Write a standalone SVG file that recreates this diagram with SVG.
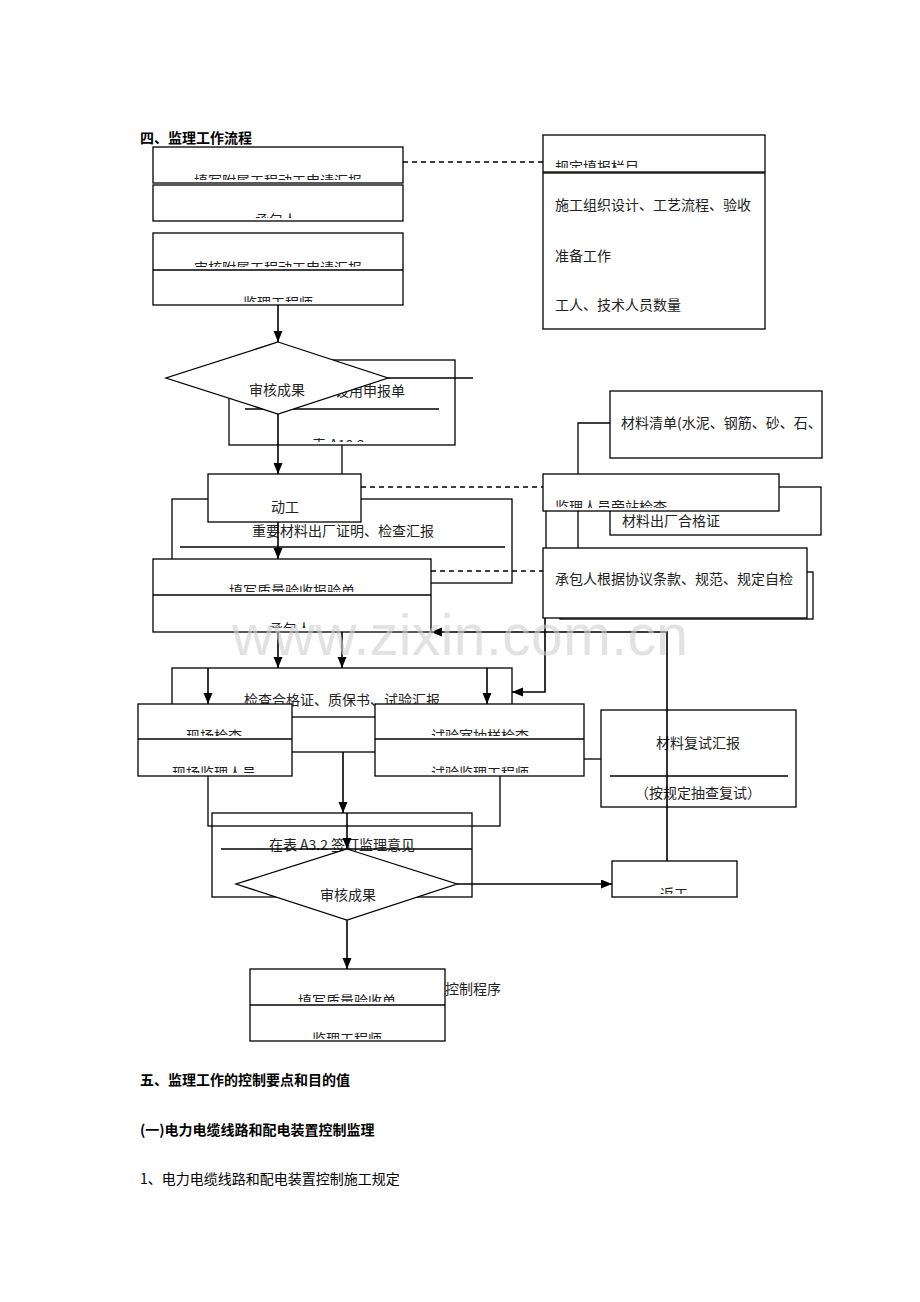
<svg xmlns="http://www.w3.org/2000/svg" width="920" height="1302" viewBox="0 0 920 1302">
<style>
.bx{fill:#fff;stroke:#000;stroke-width:1.3}
.nf{fill:none;stroke:#000;stroke-width:1.3}
.ln{fill:none;stroke:#000;stroke-width:1.3}
.ar{fill:none;stroke:#000;stroke-width:1.6;marker-end:url(#ah)}
.ds{fill:none;stroke:#000;stroke-width:1.3;stroke-dasharray:5,4}
.t{font-family:"Noto Sans CJK SC","Noto Sans CJK JP",sans-serif;font-size:14px;fill:#222}
.c{text-anchor:middle}
.h{font-family:"Noto Sans CJK SC","Noto Sans CJK JP",sans-serif;font-size:14px;font-weight:bold;fill:#000}
.wm{font-family:"Liberation Sans",Arial,sans-serif;font-size:57px;fill:#cfcfcf;opacity:0.6}
</style>
<defs>
<marker id="ah" markerUnits="userSpaceOnUse" markerWidth="11" markerHeight="10" refX="11" refY="4.5" orient="auto"><path d="M0,0 L11,4.5 L0,9 z" fill="#000"/></marker>
<clipPath id="cA"><rect x="153" y="147" width="250" height="33"/></clipPath>
<clipPath id="cB"><rect x="153" y="185" width="250" height="33"/></clipPath>
<clipPath id="cC1"><rect x="153" y="233" width="250" height="34"/></clipPath>
<clipPath id="cC2"><rect x="153" y="270" width="250" height="32"/></clipPath>
<clipPath id="cG"><rect x="543" y="135" width="222" height="33"/></clipPath>
<clipPath id="cS"><rect x="229" y="360" width="226" height="82"/></clipPath>
<clipPath id="cJ"><rect x="543" y="474" width="236" height="34"/></clipPath>
<clipPath id="cQ1"><rect x="153" y="559" width="278" height="33"/></clipPath>
<clipPath id="cQ2"><rect x="153" y="595" width="278" height="33"/></clipPath>
<clipPath id="cX1"><rect x="138" y="704" width="154" height="32"/></clipPath>
<clipPath id="cX2"><rect x="138" y="739" width="154" height="34"/></clipPath>
<clipPath id="cY1"><rect x="375" y="704" width="209" height="32"/></clipPath>
<clipPath id="cY2"><rect x="375" y="739" width="209" height="34"/></clipPath>
<clipPath id="cR"><rect x="612" y="861" width="125" height="33"/></clipPath>
<clipPath id="cF1"><rect x="250" y="969" width="195" height="33"/></clipPath>
<clipPath id="cF2"><rect x="250" y="1005" width="195" height="34"/></clipPath>
</defs>
<rect width="920" height="1302" fill="#fff"/>

<g id="heading1"><text class="h" x="140" y="143">四、监理工作流程</text></g>

<g id="n-apply">
<rect class="bx" x="153" y="147" width="250" height="36"/>
<text class="t c" x="278" y="186" clip-path="url(#cA)">填写附属工程动工申请汇报</text>
</g>
<g id="n-contractor1">
<rect class="bx" x="153" y="185" width="250" height="36"/>
<text class="t c" x="276" y="225" clip-path="url(#cB)">承包人</text>
</g>
<g id="n-review">
<rect class="bx" x="153" y="233" width="250" height="72"/>
<line class="ln" x1="153" y1="270" x2="403" y2="270"/>
<text class="t c" x="278" y="273" clip-path="url(#cC1)">审核附属工程动工申请汇报</text>
<text class="t c" x="278" y="308" clip-path="url(#cC2)">监理工程师</text>
</g>

<g id="n-fields">
<rect class="bx" x="543" y="135" width="222" height="37"/>
<text class="t" x="555" y="172" clip-path="url(#cG)">规定填报栏目</text>
</g>
<g id="n-prep">
<rect class="bx" x="543" y="173" width="222" height="156"/>
<text class="t" x="555" y="210">施工组织设计、工艺流程、验收</text>
<text class="t" x="555" y="261">准备工作</text>
<text class="t" x="555" y="310">工人、技术人员数量</text>
</g>

<g id="n-usage">
<rect class="bx" x="229" y="360" width="226" height="85"/>
<text class="t" x="335" y="396">设用申报单</text>
<line class="ln" x1="245" y1="409" x2="439" y2="409"/>
<text class="t" x="312" y="450" clip-path="url(#cS)">表 A10.2</text>
</g>
<g id="n-decision1">
<polygon class="bx" points="278,342 388,378 278,414 166,378"/>
<text class="t c" x="277" y="395">审核成果</text>
</g>

<g id="n-matlist">
<rect class="bx" x="610" y="391" width="212" height="67"/>
<text class="t" x="621" y="428">材料清单(水泥、钢筋、砂、石、</text>
</g>
<g id="n-matcert">
<rect class="bx" x="610" y="487" width="211" height="48"/>
<text class="t" x="622" y="526">材料出厂合格证</text>
</g>
<g id="n-onsite">
<rect class="bx" x="543" y="474" width="236" height="37"/>
<text class="t" x="555" y="512" clip-path="url(#cJ)">监理人员旁站检查</text>
</g>
<g id="n-selfcheck">
<rect class="bx" x="560" y="572" width="253" height="47"/>
<rect class="bx" x="543" y="548" width="264" height="70"/>
<text class="t" x="555" y="584">承包人根据协议条款、规范、规定自检</text>
</g>

<g id="n-proof">
<rect class="bx" x="172" y="499" width="340" height="84"/>
<text class="t c" x="343" y="536">重要材料出厂证明、检查汇报</text>
<line class="ln" x1="180" y1="547" x2="505" y2="547"/>
</g>
<g id="n-start">
<rect class="bx" x="208" y="474" width="153" height="48"/>
<text class="t c" x="285" y="512">动工</text>
</g>
<g id="n-quality">
<rect class="bx" x="153" y="559" width="278" height="73"/>
<line class="ln" x1="153" y1="595" x2="431" y2="595"/>
<text class="t c" x="292" y="596" clip-path="url(#cQ1)">填写质量验收报验单</text>
<text class="t c" x="290" y="634" clip-path="url(#cQ2)">承包人</text>
</g>

<g id="n-checkcert">
<rect class="bx" x="172" y="668" width="340" height="49"/>
<text class="t c" x="342" y="705">检查合格证、质保书、试验汇报</text>
</g>
<g id="n-merge">
<rect class="nf" x="208" y="752" width="292" height="74"/>
</g>
<g id="n-field">
<rect class="bx" x="138" y="704" width="154" height="72"/>
<line class="ln" x1="138" y1="739" x2="292" y2="739"/>
<text class="t c" x="214" y="741" clip-path="url(#cX1)">现场检查</text>
<text class="t c" x="214" y="778" clip-path="url(#cX2)">现场监理人员</text>
</g>
<g id="n-lab">
<rect class="bx" x="375" y="704" width="209" height="72"/>
<line class="ln" x1="375" y1="739" x2="584" y2="739"/>
<text class="t c" x="480" y="741" clip-path="url(#cY1)">试验室抽样检查</text>
<text class="t c" x="480" y="778" clip-path="url(#cY2)">试验监理工程师</text>
</g>
<g id="n-retest">
<rect class="bx" x="601" y="710" width="195" height="97"/>
<text class="t c" x="698" y="748">材料复试汇报</text>
<line class="ln" x1="610" y1="776" x2="788" y2="776"/>
<text class="t c" x="698" y="798">（按规定抽查复试）</text>
</g>

<g id="n-sign">
<rect class="nf" x="212" y="813" width="260" height="84"/>
<text class="t c" x="342" y="850">在表 A3.2 签订监理意见</text>
<line class="ln" x1="221" y1="849" x2="472" y2="849"/>
</g>
<g id="n-decision2">
<polygon class="bx" points="347,849 457,884 347,920 236,884"/>
<text class="t c" x="348" y="900">审核成果</text>
</g>
<g id="n-rework">
<rect class="bx" x="612" y="861" width="125" height="36"/>
<text class="t c" x="674" y="899" clip-path="url(#cR)">返工</text>
</g>
<g id="n-final">
<rect class="bx" x="250" y="969" width="195" height="72"/>
<line class="ln" x1="250" y1="1005" x2="445" y2="1005"/>
<text class="t c" x="347" y="1006" clip-path="url(#cF1)">填写质量验收单</text>
<text class="t c" x="347" y="1044" clip-path="url(#cF2)">监理工程师</text>
<text class="t" x="445" y="994">控制程序</text>
</g>

<g id="connectors">
<line class="ar" x1="278" y1="305" x2="278" y2="342"/>
<line class="ds" x1="403" y1="162" x2="543" y2="162"/>
<line class="ln" x1="388" y1="378" x2="473" y2="378"/>
<line class="ar" x1="278" y1="414" x2="278" y2="474"/>
<line class="ln" x1="342" y1="445" x2="342" y2="474"/>
<line class="ds" x1="361" y1="487" x2="543" y2="487"/>
<line class="ar" x1="278" y1="522" x2="278" y2="559"/>
<line class="ds" x1="431" y1="571" x2="543" y2="571"/>
<polyline class="ln" points="610,423 578,423 578,474"/>
<line class="ln" x1="578" y1="511" x2="578" y2="548"/>
<line class="ln" x1="546" y1="511" x2="546" y2="548"/>
<polyline class="ar" points="545,618 545,692 512,692"/>
<line class="ar" x1="278" y1="632" x2="278" y2="668"/>
<line class="ar" x1="342" y1="632" x2="342" y2="668"/>
<line class="ar" x1="208" y1="668" x2="208" y2="704"/>
<line class="ar" x1="487" y1="668" x2="487" y2="704"/>
<line class="ln" x1="584" y1="759" x2="601" y2="759"/>
<line class="ar" x1="343" y1="752" x2="343" y2="813"/>
<line class="ar" x1="347" y1="813" x2="347" y2="849"/>
<line class="ar" x1="457" y1="884" x2="612" y2="884"/>
<line class="ar" x1="347" y1="920" x2="347" y2="969"/>
<polyline class="ar" points="667,861 667,632 431,632"/>
</g>

<g id="heading2">
<text class="h" x="140" y="1085">五、监理工作的控制要点和目的值</text>
<text class="h" x="140" y="1135">(一)电力电缆线路和配电装置控制监理</text>
<text class="t" x="140" y="1184" style="fill:#000">1、电力电缆线路和配电装置控制施工规定</text>
</g>

<text class="wm" x="232" y="655" textLength="456">www.zixin.com.cn</text>
</svg>
